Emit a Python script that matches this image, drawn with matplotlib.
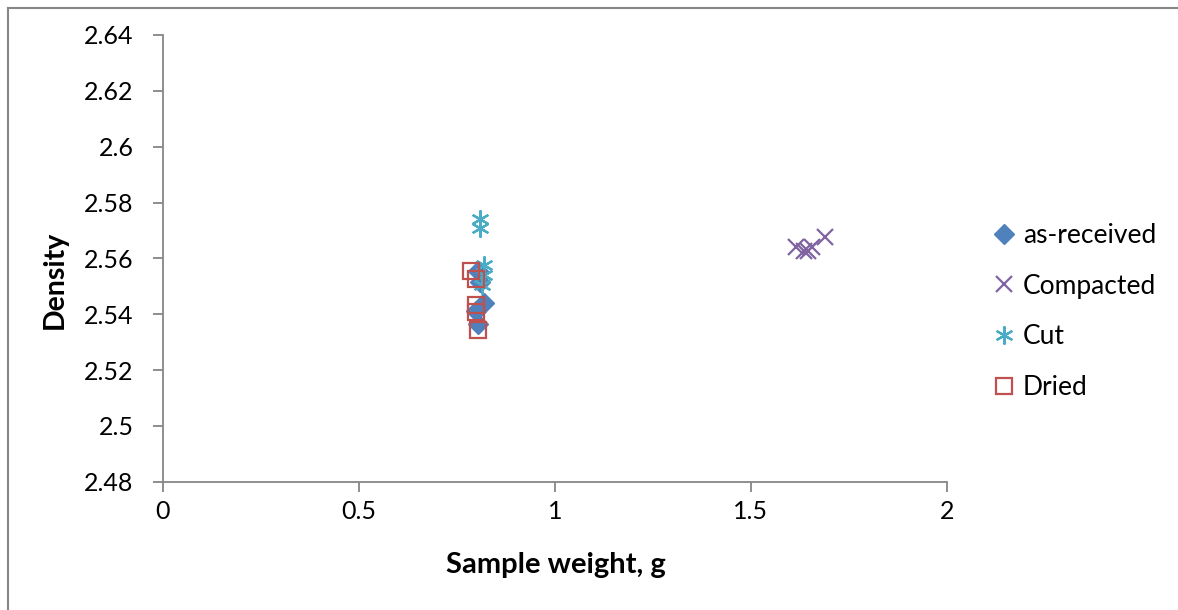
import matplotlib
matplotlib.use("Agg")
import matplotlib.pyplot as plt
from matplotlib.lines import Line2D

plt.rcParams['font.family'] = ['Lato', 'DejaVu Sans']

# Data
asrec_x = [0.805, 0.81, 0.82, 0.80, 0.805]
asrec_y = [2.5556, 2.5515, 2.5439, 2.5412, 2.5365]

comp_x = [1.615, 1.635, 1.645, 1.655, 1.690]
comp_y = [2.5640, 2.5628, 2.5625, 2.5640, 2.5675]

cut_x = [0.81, 0.81, 0.82, 0.82, 0.815]
cut_y = [2.5741, 2.5708, 2.5576, 2.5540, 2.5504]

dried_x = [0.787, 0.80, 0.80, 0.80, 0.805]
dried_y = [2.5553, 2.5525, 2.5433, 2.5409, 2.5343]

x_ticks = [0, 0.5, 1, 1.5, 2]
x_ticklabels = ['0', '0.5', '1', '1.5', '2']
y_ticks = [2.48, 2.50, 2.52, 2.54, 2.56, 2.58, 2.60, 2.62, 2.64]
y_ticklabels = ['2.48', '2.5', '2.52', '2.54', '2.56', '2.58', '2.6', '2.62', '2.64']

fig = plt.figure(figsize=(11.78, 6.10), dpi=100)
ax = fig.add_axes([162.7/1178, 1-481.7/610, (947-162.7)/1178, (481.7-35)/610])

ax.plot(asrec_x, asrec_y, linestyle='none', marker='D', markersize=10,
        color='#4F81BD', label='as-received')
ax.plot(comp_x, comp_y, linestyle='none', marker='x', markersize=12,
        markeredgewidth=1.6, color='#8064A2', label='Compacted')
ax.plot(cut_x, cut_y, linestyle='none', marker=(6, 2, 0), markersize=13,
        markeredgewidth=1.6, color='#4BACC6', label='Cut')
ax.plot(dried_x, dried_y, linestyle='none', marker='s', markersize=11,
        markerfacecolor='none', markeredgewidth=1.6, color='#C0504D', label='Dried')

ax.set_xlim(0, 2)
ax.set_ylim(2.48, 2.64)
ax.set_xticks(x_ticks)
ax.set_xticklabels(x_ticklabels)
ax.set_yticks(y_ticks)
ax.set_yticklabels(y_ticklabels)

for s in ['top', 'right']:
    ax.spines[s].set_visible(False)
for s in ['left', 'bottom']:
    ax.spines[s].set_color('#868686')
    ax.spines[s].set_linewidth(1.3)
ax.tick_params(axis='both', direction='out', length=7, width=1.3, color='#868686',
               labelsize=18, labelcolor='black', pad=6)
ax.tick_params(axis='y', pad=14)

fig.text(556/1178, 1-565/610, 'Sample weight, g', fontsize=21, fontweight='bold',
         ha='center', va='center')
fig.text(55/1178, 1-280/610, 'Density', fontsize=20.5, fontweight='bold',
         ha='center', va='center', rotation=90)

fig.legend(loc='upper left', bbox_to_anchor=(995/1178, 1-223/610), frameon=False,
           fontsize=19, labelspacing=0.97, handlelength=0.7, handletextpad=0.35,
           borderaxespad=0, borderpad=0)

# outer chart frame (left and top visible)
fig.add_artist(Line2D([8/1178, 8/1178], [0, 1-8/610], transform=fig.transFigure,
                      color='#868686', linewidth=1.5))
fig.add_artist(Line2D([8/1178, 1], [1-8/610, 1-8/610], transform=fig.transFigure,
                      color='#868686', linewidth=1.5))

fig.savefig('out.png', dpi=100)
